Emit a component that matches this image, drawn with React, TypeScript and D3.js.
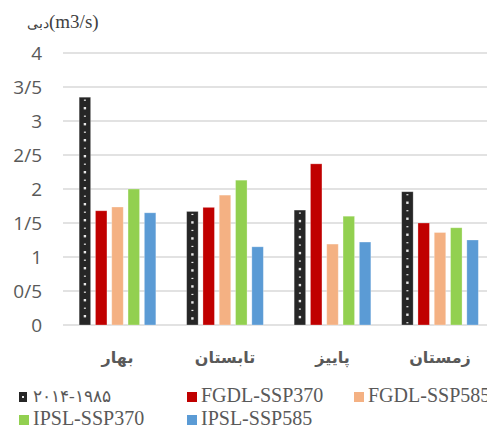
import React from "react";
import * as d3 from "d3";

const categories = ["بهار", "تابستان", "پاییز", "زمستان"];
const seriesNames = ["۲۰۱۴-۱۹۸۵", "FGDL-SSP370", "FGDL-SSP585", "IPSL-SSP370", "IPSL-SSP585"];
const seriesColors = ["#262626", "#c00000", "#f4b183", "#92d050", "#5b9bd5"];
const baseline = [3.35, 1.67, 1.69, 1.96];
const fgdl370 = [1.68, 1.73, 2.37, 1.5];
const fgdl585 = [1.735, 1.91, 1.19, 1.36];
const ipsl370 = [2.0, 2.13, 1.6, 1.43];
const ipsl585 = [1.65, 1.15, 1.22, 1.25];
const seriesValues = [baseline, fgdl370, fgdl585, ipsl370, ipsl585];
const yTicks = [0, 0.5, 1, 1.5, 2, 2.5, 3, 3.5, 4];
const yTickLabels = ["0", "0/5", "1", "1/5", "2", "2/5", "3", "3/5", "4"];
const yTitleFa = "دبی";
const yTitleUnit = "(m3/s)";

const W = 487;
const H = 427;

export default function App() {
  const y = d3.scaleLinear().domain([0, 4]).range([325, 53]);
  const x0 = d3.scaleBand<string>().domain(categories).range([63.75, 493.75]).paddingInner(0).paddingOuter(0);
  const x1 = d3
    .scaleBand<number>()
    .domain(d3.range(seriesNames.length))
    .range([-38.35, 38.35])
    .paddingInner(0.294)
    .paddingOuter(0);
  const bw = x1.bandwidth();

  const legendItems = [
    { i: 0, x: 19, y: 395 },
    { i: 1, x: 187, y: 395 },
    { i: 2, x: 354, y: 395 },
    { i: 3, x: 19, y: 418 },
    { i: 4, x: 187, y: 418 },
  ];

  return (
    <svg width={W} height={H} style={{ position: "absolute", left: 0, top: 0, background: "#fff" }}>
      <rect x={0} y={0} width={W} height={H} fill="#fff" />
      {/* title */}
      <text x={27} y={28} fill="#404040" style={{ fontFamily: "'Liberation Serif', serif", fontSize: 19 }} direction="ltr">
        <tspan style={{ fontFamily: "'DejaVu Serif', serif", fontSize: 14 }}>{yTitleFa}</tspan>
        <tspan>{yTitleUnit}</tspan>
      </text>
      {/* gridlines */}
      {yTicks.map((t, k) => (
        <g key={k}>
          <line x1={63} x2={W} y1={y(t)} y2={y(t)} stroke="#d9d9d9" strokeWidth={1.5} />
          <text
            x={42}
            y={y(t)}
            dy="0.36em"
            textAnchor="end"
            fill="#595959"
            style={{ fontFamily: "'Open Sans', sans-serif", fontSize: 19 }}
          >
            {yTickLabels[k]}
          </text>
        </g>
      ))}
      {/* bars */}
      {categories.map((c, ci) => {
        const cx = (x0(c) as number) + x0.bandwidth() / 2;
        return (
          <g key={c}>
            {seriesValues.map((vals, si) => {
              const bx = cx + (x1(si) as number);
              const top = y(vals[ci]);
              const h = y(0) - top;
              const dots: React.ReactNode[] = [];
              if (si === 0) {
                const ys = d3.range(top + 3, y(0) - 2, 8);
                ys.forEach((dy, k) => {
                  const big = k % 2 === 1;
                  dots.push(
                    <rect
                      key={k}
                      x={bx + bw / 2 - (big ? 1.2 : 1)}
                      y={dy - (big ? 1.2 : 0.6)}
                      width={big ? 2.4 : 2}
                      height={big ? 2.4 : 1.2}
                      fill="#e8e8e8"
                    />
                  );
                });
              }
              return (
                <g key={si}>
                  <rect x={bx} y={top} width={bw} height={h} fill={seriesColors[si]} stroke="#ffffff" strokeOpacity={0.35} strokeWidth={0.8} />
                  {dots}
                </g>
              );
            })}
            <text
              x={cx}
              y={357}
              dy="0.35em"
              textAnchor="middle"
              fill="#595959"
              style={{ fontFamily: "'DejaVu Sans', sans-serif", fontSize: 16, fontWeight: "bold" }}
            >
              {c}
            </text>
          </g>
        );
      })}
      {/* legend */}
      {legendItems.map(({ i, x, y: ly }) => (
        <g key={i}>
          <rect x={x} y={ly - 3} width={i === 0 ? 8 : 10} height={10} fill={seriesColors[i]} />
          {i === 0 && <rect x={x + 3} y={ly + 1} width={2} height={2} fill="#e8e8e8" />}
          <text
            x={x + 14}
            y={ly + 7}
            fill="#595959"
            style={{ fontFamily: "'Liberation Serif', serif", fontSize: i === 0 ? 17 : 20 }}
          >
            {seriesNames[i]}
          </text>
        </g>
      ))}
    </svg>
  );
}
